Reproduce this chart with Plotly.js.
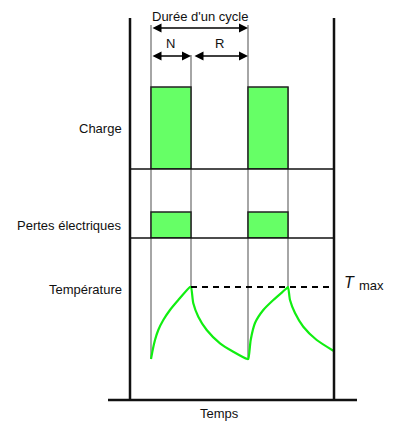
<!DOCTYPE html>
<html>
<head>
<meta charset="utf-8">
<script src="https://cdn.plot.ly/plotly-3.0.1.min.js"></script>
<style>html,body{margin:0;padding:0;background:#fff}#chart{width:393px;height:421px}</style>
</head>
<body>
<div id="chart"></div>
<script>
// ---- data (schematic: time units, normalised levels) ----
const onStarts = [0, 97];          // start of each "N" (charge) period
const onDuration = 40;             // N duration
const cycleDuration = 97;          // N + R
const chargeLevel = [1, 1];
const lossLevel = [1, 1];
const tempTime  = [0, 1.7, 4, 7.3, 12.3, 19, 27.3, 39,
                   40, 42.3, 47.3, 55.7, 69, 82.3, 96.3,
                   97.3, 99.7, 104, 112.3, 122.3, 135.7, 137,
                   139, 144, 152.3, 165.7, 182.3];
const tempValue = [41, 50, 60, 70, 80, 90, 100, 113,
                   113, 96.7, 83.3, 70, 56.7, 48.3, 41,
                   41, 60, 77, 90, 100, 111.7, 113,
                   100, 87, 73.3, 60, 49.3];
const tMax = 113;
const tMaxSpan = [40, 183];
const rowLabels = ["Charge", "Pertes électriques", "Température"];

// ---- layout helpers (pixel -> paper) ----
const W = 393, H = 421;
const X = px => px / W, Y = py => 1 - py / H;
const font = "Liberation Sans, Arial, sans-serif";
const ink = "#111";

const traces = [
  { type: "bar", x: onStarts, y: chargeLevel, offset: 0, width: onDuration,
    xaxis: "x", yaxis: "y", marker: { color: "#66ff66", line: { color: "#222", width: 1.5 } },
    hoverinfo: "skip" },
  { type: "bar", x: onStarts, y: lossLevel, offset: 0, width: onDuration,
    xaxis: "x", yaxis: "y2", marker: { color: "#66ff66", line: { color: "#222", width: 1.5 } },
    hoverinfo: "skip" },
  { type: "scatter", mode: "lines", x: tempTime, y: tempValue, xaxis: "x", yaxis: "y3",
    line: { color: "#11ee11", width: 2.2, shape: "spline", smoothing: 0.6 }, hoverinfo: "skip" },
  { type: "scatter", mode: "lines", x: tMaxSpan, y: [tMax, tMax], xaxis: "x", yaxis: "y3",
    line: { color: "#000", width: 2, dash: "6px,5px" }, hoverinfo: "skip" }
];

const ln = (x0, y0, x1, y1, color, width, layer) => ({
  type: "line", xref: "paper", yref: "paper", x0: X(x0), y0: Y(y0), x1: X(x1), y1: Y(y1),
  line: { color: color, width: width }, layer: layer || "above"
});

const shapes = [
  // gray guide lines
  ln(151, 25, 151, 359, "#888", 1.5, "below"),
  ln(191, 55, 191, 287, "#888", 1.5, "below"),
  ln(248, 25, 248, 360, "#888", 1.5, "below"),
  ln(288, 87, 288, 287, "#888", 1.5, "below"),
  // panel separators
  ln(130, 169, 334, 169, "#111", 1.5),
  ln(130, 238, 334, 238, "#111", 1.5),
  // frame
  ln(130, 18, 130, 400, "#111", 2.5),
  ln(334, 18, 334, 400, "#111", 2.5),
  ln(108, 400, 357, 400, "#111", 2.5)
];

const txt = (text, x, y, xanchor, size, extra) => Object.assign({
  text: text, xref: "paper", yref: "paper", x: X(x), y: Y(y), xanchor: xanchor, yanchor: "middle",
  showarrow: false, font: { family: font, size: size, color: ink }
}, extra || {});

const arrow = (xHead, xTail, y) => ({
  text: "", xref: "paper", yref: "paper", x: X(xHead), y: Y(y), axref: "pixel", ayref: "pixel",
  ax: xTail - xHead, ay: 0, showarrow: true, arrowside: "end+start", arrowhead: 2,
  startarrowhead: 2, arrowsize: 1.2, startarrowsize: 1.2, arrowwidth: 1.5, arrowcolor: "#000",
  standoff: 0, startstandoff: 0
});

const annotations = [
  txt(rowLabels[0], 124, 128, "right", 13),
  txt(rowLabels[1], 124, 225, "right", 13),
  txt(rowLabels[2], 124, 289, "right", 13),
  txt("Temps", 219, 413, "center", 13),
  txt("Durée d'un cycle", 200, 16, "center", 13),
  txt("N", 170, 43, "center", 13),
  txt("R", 219, 43, "center", 13),
  txt("<i>T</i>", 357, 282, "right", 16),
  txt("max", 357, 285, "left", 13),
  arrow(248, 151, 28),
  arrow(191, 151, 56),
  arrow(248, 193, 56)
];

const layout = {
  width: W, height: H, margin: { l: 0, r: 0, t: 0, b: 0 },
  paper_bgcolor: "#fff", plot_bgcolor: "rgba(0,0,0,0)", showlegend: false,
  barmode: "overlay",
  xaxis: { domain: [0, 1], range: [-151, 242], visible: false, fixedrange: true },
  yaxis: { domain: [Y(169), Y(18)], range: [0, 151 / 82], visible: false, fixedrange: true },
  yaxis2: { domain: [Y(238), Y(169)], range: [0, 69 / 26], visible: false, fixedrange: true },
  yaxis3: { domain: [Y(400), Y(238)], range: [0, 162], visible: false, fixedrange: true },
  shapes: shapes, annotations: annotations
};

Plotly.newPlot("chart", traces, layout, { staticPlot: true, displayModeBar: false });
</script>
</body>
</html>
